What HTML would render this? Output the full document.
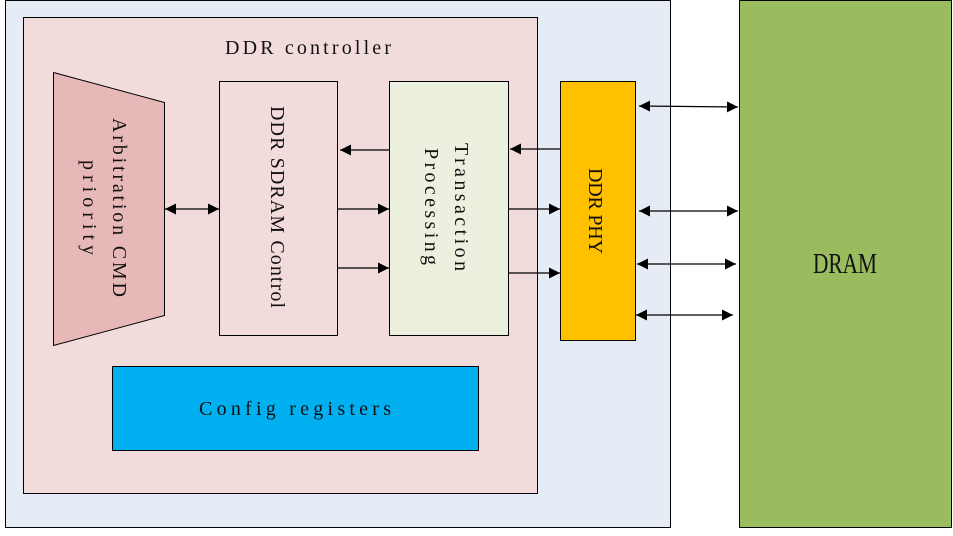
<!DOCTYPE html>
<html><head><meta charset="utf-8"><style>
html,body{margin:0;padding:0;background:#fff;}
svg{display:block;}
text{font-family:"Liberation Serif",serif;font-size:20px;fill:#111;}
</style></head><body>
<svg width="953" height="536" viewBox="0 0 953 536" xmlns="http://www.w3.org/2000/svg">
<defs>
<marker id="a" viewBox="0 0 10 10" refX="10" refY="5" markerWidth="17" markerHeight="11" markerUnits="userSpaceOnUse" orient="auto-start-reverse">
<path d="M0,0 L10,5 L0,10 z" fill="#000"/></marker>
</defs>
<rect x="5.5" y="0.5" width="665" height="527" fill="#e6ecf6" stroke="#000"/>
<rect x="739.5" y="0.5" width="212" height="527" fill="#9bbb5f" stroke="#000"/>
<rect x="23.5" y="17.5" width="514" height="476" fill="#f2dcdb" stroke="#000"/>
<polygon points="53.5,72.5 164.5,102.5 164.5,315.5 53.5,345.5" fill="#e6b9b8" stroke="#000"/>
<rect x="219.5" y="81.5" width="118" height="254" fill="#f2dcdb" stroke="#000"/>
<rect x="389.5" y="81.5" width="119" height="254" fill="#ebf1de" stroke="#000"/>
<rect x="560.5" y="81.5" width="75" height="259" fill="#ffc000" stroke="#000"/>
<rect x="112.5" y="366.5" width="366" height="84" fill="#00b0f0" stroke="#000"/>
<text x="225" y="54" textLength="166" lengthAdjust="spacing">DDR controller</text>
<text x="199" y="415" textLength="192" lengthAdjust="spacing">Config registers</text>
<text x="813" y="273" textLength="64" lengthAdjust="spacingAndGlyphs" style="font-size:28px">DRAM</text>
<text transform="translate(113,118) rotate(90)" textLength="179" lengthAdjust="spacing">Arbitration CMD</text>
<text transform="translate(83,160) rotate(90)" textLength="95" lengthAdjust="spacing">priority</text>
<text transform="translate(271,106) rotate(90)" textLength="202" lengthAdjust="spacing">DDR SDRAM Control</text>
<text transform="translate(455,143) rotate(90)" textLength="128" lengthAdjust="spacing">Transaction</text>
<text transform="translate(425,148) rotate(90)" textLength="117" lengthAdjust="spacing">Processing</text>
<text transform="translate(589,168) rotate(90)" textLength="86" lengthAdjust="spacing">DDR PHY</text>
<g stroke="#000" stroke-width="1.2" fill="none">
<line x1="165" y1="209" x2="219" y2="209" marker-start="url(#a)" marker-end="url(#a)"/>
<line x1="389" y1="150" x2="340" y2="150" marker-end="url(#a)"/>
<line x1="338" y1="209" x2="389" y2="209" marker-end="url(#a)"/>
<line x1="338" y1="268" x2="389" y2="268" marker-end="url(#a)"/>
<line x1="560" y1="149" x2="510" y2="149" marker-end="url(#a)"/>
<line x1="509" y1="209" x2="560" y2="209" marker-end="url(#a)"/>
<line x1="509" y1="273" x2="560" y2="273" marker-end="url(#a)"/>
<line x1="639" y1="106" x2="738" y2="107" marker-start="url(#a)" marker-end="url(#a)"/>
<line x1="639" y1="211" x2="738" y2="211" marker-start="url(#a)" marker-end="url(#a)"/>
<line x1="637" y1="264" x2="736" y2="264" marker-start="url(#a)" marker-end="url(#a)"/>
<line x1="636" y1="315" x2="733" y2="315" marker-start="url(#a)" marker-end="url(#a)"/>
</g>
</svg>
</body></html>
